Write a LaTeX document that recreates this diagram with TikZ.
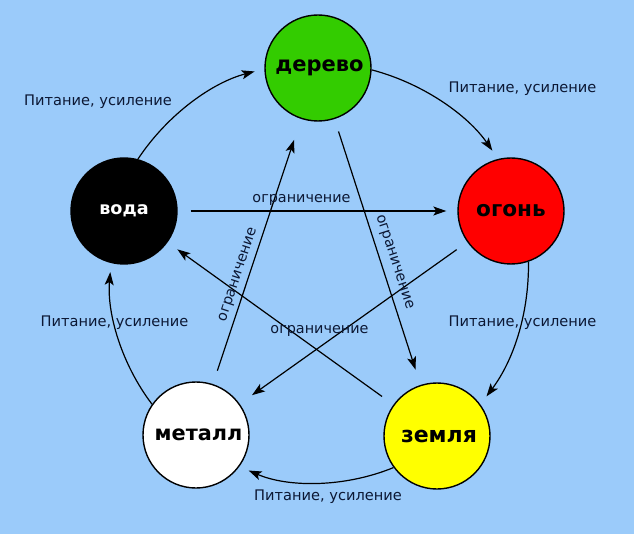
\documentclass[tikz,border=0pt]{standalone}
\usepackage{fontspec}
\setmainfont{DejaVu Sans}
\usetikzlibrary{arrows.meta}
\definecolor{bgblue}{RGB}{155,203,250}
\definecolor{wood}{RGB}{51,204,0}
\definecolor{fire}{RGB}{255,0,0}
\definecolor{earth}{RGB}{255,255,0}
\definecolor{labelcol}{RGB}{12,24,52}
\tikzset{
  elem/.style={circle, draw=black, line width=1.4pt, minimum size=106pt, inner sep=0pt,
    font=\fontsize{21}{24}\selectfont\bfseries},
  arr/.style={-{Stealth[length=13pt,width=9pt,inset=3pt]}, line width=1.2pt, black},
  lbl/.style={text=labelcol, inner sep=0pt, font=\fontsize{14.6}{17}\selectfont},
  lim/.style={text=labelcol, inner sep=0pt, font=\fontsize{14.4}{17}\selectfont}
}
\begin{document}
\begin{tikzpicture}[x=1pt,y=-1pt]
\fill[bgblue] (0,0) rectangle (634,534);
\useasboundingbox (0,0) rectangle (634,534);

\node[elem, fill=wood] (D) at (318,68) {\hspace*{3pt}дерево};
\node[elem, fill=fire] (O) at (511,211) {\fontsize{21.6}{24}\selectfont огонь};
\node[elem, fill=earth] (Z) at (437,436) {\fontsize{22}{24}\selectfont\hspace*{4pt}земля};
\node[elem, fill=white] (M) at (196,435) {\fontsize{20.8}{24}\selectfont\hspace*{5pt}металл};
\node[elem, fill=black, text=white, font=\fontsize{17.6}{22}\selectfont\bfseries] (V) at (124,211) {вода};

% generating cycle
\draw[arr, shorten >=10pt] (V.75) .. controls (168.2,113.5) and (213.1,82.3) .. (D.181.6);
\draw[arr, shorten >=10pt] (D.-2) .. controls (423,83.3) and (467.9,115.2) .. (O.104.7);
\draw[arr, shorten >=10pt] (O.-71.6) .. controls (529,315) and (513,361) .. (Z.36.4);
\draw[arr, shorten >=10pt] (Z.216.1) .. controls (344.4,487.7) and (288.2,487.6) .. (M.-36.7);
\draw[arr, shorten >=9pt] (M.145.3) .. controls (121.5,364.1) and (106.8,313.3) .. (V.-104);

% controlling cycle
\draw[arr, shorten <=13pt, shorten >=11pt] (V) -- (O);
\draw[arr, shorten <=13pt, shorten >=16pt] (D) -- (Z);
\draw[arr, shorten <=14pt, shorten >=12pt] (Z) -- (V);
\draw[arr, shorten <=13pt, shorten >=15pt] (O) -- (M);
\draw[arr, shorten <=14pt, shorten >=22pt] (M) -- (D);

% labels
\node[lbl] (l1) at (98,102) {Питание, усиление};
\node[lbl] (l2) at (522.5,88.5) {Питание, усиление};
\node[lbl] (l3) at (522.5,323) {Питание, усиление};
\node[lbl] (l4) at (114.5,323) {Питание, усиление};
\node[lbl] (l5) at (328,497) {Питание, усиление};
\node[lim] (r1) at (301.5,200) {ограничение};
\node[lim] (r2) at (319.5,331) {ограничение};
\node[lim, rotate=-72] (r3) at (394,262) {ограничение};
\node[lim, rotate=71.6] (r4) at (238.5,275) {ограничение};
\end{tikzpicture}
\end{document}
